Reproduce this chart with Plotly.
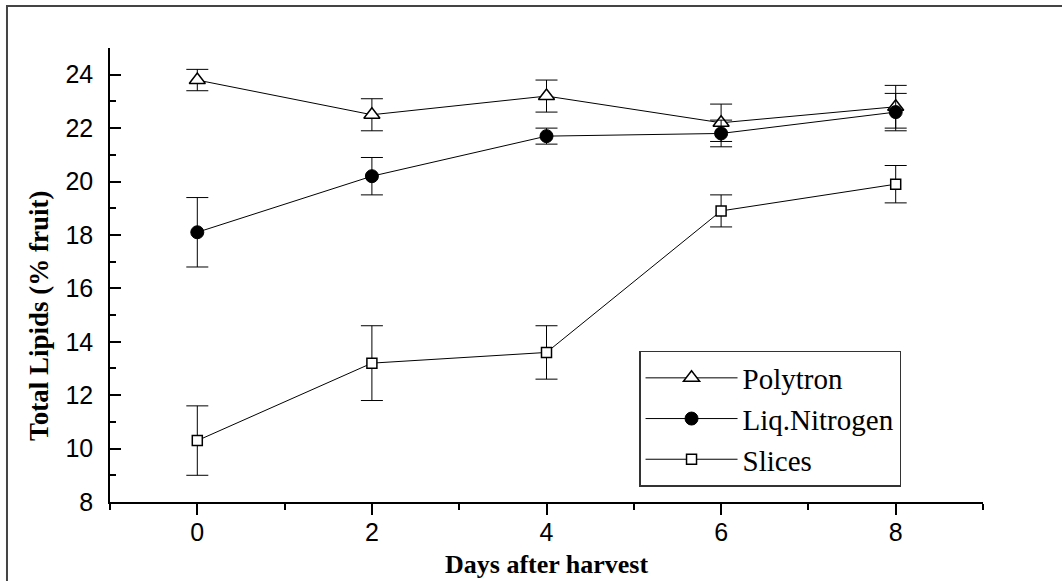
import plotly.graph_objects as go

days = [0, 2, 4, 6, 8]
series_names = ["Polytron", "Liq.Nitrogen", "Slices"]
polytron = [23.8, 22.5, 23.2, 22.2, 22.8]
polytron_err = [0.4, 0.6, 0.6, 0.7, 0.8]
liq_nitrogen = [18.1, 20.2, 21.7, 21.8, 22.6]
liq_nitrogen_err = [1.3, 0.7, 0.3, 0.5, 0.7]
slices = [10.3, 13.2, 13.6, 18.9, 19.9]
slices_err = [1.3, 1.4, 1.0, 0.6, 0.7]

x_ticks = [0, 2, 4, 6, 8]
y_ticks = [8, 10, 12, 14, 16, 18, 20, 22, 24]

styles = [
    dict(symbol="triangle-up", size=14, color="white", line=dict(color="black", width=1.5)),
    dict(symbol="circle", size=13, color="black", line=dict(color="black", width=1)),
    dict(symbol="square", size=10, color="white", line=dict(color="black", width=1.5)),
]

fig = go.Figure()
for i, (name, vals, errs) in enumerate(zip(series_names,
                                             [polytron, liq_nitrogen, slices],
                                             [polytron_err, liq_nitrogen_err, slices_err])):
    fig.add_trace(go.Scatter(
        x=days, y=vals, name=name, mode="lines+markers",
        legendgroup=name,
        line=dict(color="black", width=1),
        marker=styles[i],
        error_y=dict(type="data", array=errs, visible=True, color="black",
                     thickness=1, width=11),
    ))

fig.update_layout(
    width=1062, height=581,
    margin=dict(l=110, r=79, t=48, b=79),
    paper_bgcolor="white", plot_bgcolor="white",
    showlegend=True,
    legend=dict(
        x=0.606, y=0.3326, xanchor="left", yanchor="top",
        bgcolor="white", bordercolor="#333333", borderwidth=1.5,
        font=dict(family="Liberation Serif", size=29, color="black"),
        tracegroupgap=0, itemwidth=92,
    ),
    xaxis=dict(
        range=[-1, 9], tickvals=x_ticks, ticktext=[str(t) for t in x_ticks],
        showgrid=False, zeroline=False, showline=True, linecolor="black", linewidth=1.5,
        ticks="outside", ticklen=11, tickwidth=1.5, tickcolor="black",
        minor=dict(dtick=1, tick0=1, ticks="outside", ticklen=6, tickwidth=1.5, tickcolor="black"),
        tickfont=dict(family="Liberation Sans", size=25, color="black"),
        ticklabelstandoff=-4,
    ),
    yaxis=dict(
        range=[8, 25], tickvals=y_ticks, ticktext=[str(t) for t in y_ticks],
        showgrid=False, zeroline=False, showline=True, linecolor="black", linewidth=1.5,
        ticks="inside", ticklen=11, tickwidth=1.5, tickcolor="black",
        minor=dict(dtick=1, tick0=1, ticks="inside", ticklen=6, tickwidth=1.5, tickcolor="black"),
        tickfont=dict(family="Liberation Sans", size=25, color="black"),
        ticklabelstandoff=10,
    ),
    annotations=[
        dict(text="<b>Days after harvest</b>", xref="paper", yref="paper",
             x=0.5, y=-0.137, xanchor="center", yanchor="middle", showarrow=False,
             font=dict(family="Liberation Serif", size=26, color="black")),
        dict(text="<b>Total Lipids (% fruit)</b>", xref="paper", yref="paper",
             x=-0.0813, y=0.41, xanchor="center", yanchor="middle", showarrow=False,
             textangle=-90,
             font=dict(family="Liberation Serif", size=27, color="black")),
    ],
    shapes=[
        dict(type="rect", xref="paper", yref="paper",
             x0=-0.118, x1=1.2, y0=-0.3, y1=1.0925,
             line=dict(color="#444444", width=2), fillcolor="rgba(0,0,0,0)"),
    ],
)

fig.write_html(
    "out.html",
    config={"displayModeBar": False},
    post_script="document.body.style.margin='0';document.body.style.overflow='hidden';",
)
